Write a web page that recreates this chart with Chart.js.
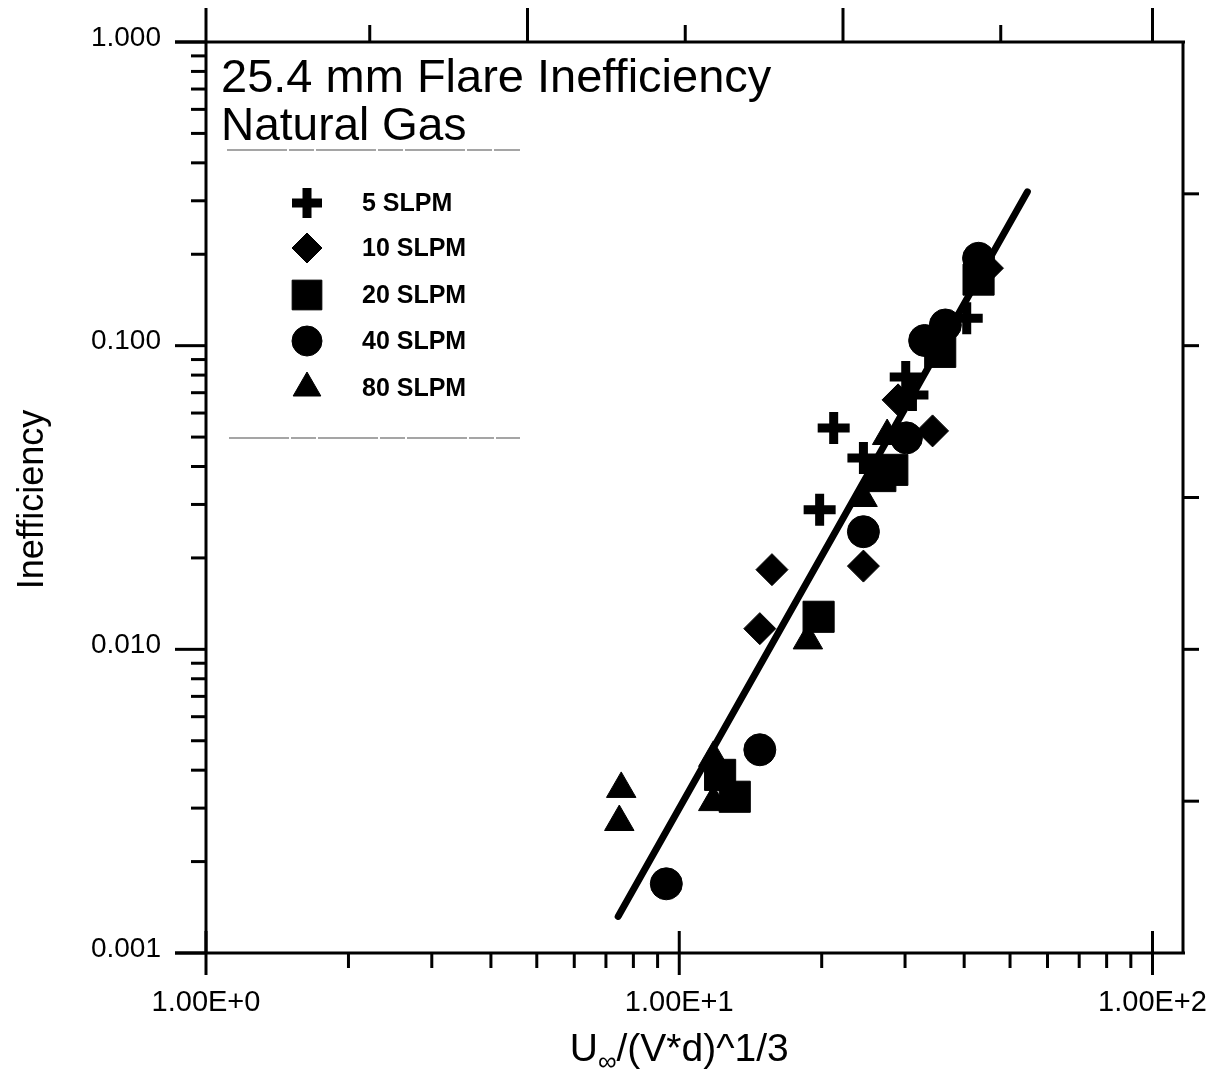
<!DOCTYPE html>
<html>
<head>
<meta charset="utf-8">
<script src="https://cdn.jsdelivr.net/npm/chart.js@4.4.1/dist/chart.umd.min.js"></script>
<style>
  body { margin: 0; background: #fff; }
</style>
</head>
<body>
<canvas id="flare" width="1218" height="1076"></canvas>
<script>
// values
const seriesNames = ['5 SLPM', '10 SLPM', '20 SLPM', '40 SLPM', '80 SLPM'];

const slpm5X = [21.2, 24.5, 19.8, 30.1, 31.1, 40.5];
const slpm5Y = [0.0536, 0.0427, 0.0288, 0.0789, 0.0688, 0.123];

const slpm10X = [14.8, 15.7, 24.5, 34.3, 29.0, 44.8];
const slpm10Y = [0.0117, 0.0183, 0.0188, 0.0524, 0.0663, 0.180];

const slpm20X = [12.2, 13.1, 19.7, 26.6, 28.2, 35.6, 42.9];
const slpm20Y = [0.00386, 0.00327, 0.0128, 0.0372, 0.0390, 0.0954, 0.165];

const slpm40X = [9.39, 14.8, 24.5, 30.2, 33.0, 36.5, 42.9];
const slpm40Y = [0.00169, 0.00467, 0.0244, 0.0497, 0.104, 0.117, 0.194];

const slpm80X = [7.54, 7.47, 11.8, 11.8, 18.7, 24.4, 27.5];
const slpm80Y = [0.00347, 0.00270, 0.00439, 0.00314, 0.0107, 0.0315, 0.0504];

// fitted line end points
const fitX = [7.43, 54.4];
const fitY = [0.00132, 0.321];

const xTickValues = [1, 10, 100];
const xTickLabels = ['1.00E+0', '1.00E+1', '1.00E+2'];
const yTickValues = [1, 0.1, 0.01, 0.001];
const yTickLabels = ['1.000', '0.100', '0.010', '0.001'];

const FONT = 'Liberation Sans, Arial, sans-serif';

const markers = [
  { pointStyle: 'cross', radius: 16, borderWidth: 9 },
  { pointStyle: 'rectRot', radius: 16, borderWidth: 1 },
  { pointStyle: 'rect', radius: 22, borderWidth: 1 },
  { pointStyle: 'circle', radius: 16, borderWidth: 1 },
  { pointStyle: 'triangle', radius: 17, borderWidth: 1 }
];

const xs = [slpm5X, slpm10X, slpm20X, slpm40X, slpm80X];
const ys = [slpm5Y, slpm10Y, slpm20Y, slpm40Y, slpm80Y];

const datasets = seriesNames.map((name, i) => ({
  label: name,
  data: xs[i].map((v, j) => ({ x: v, y: ys[i][j] })),
  pointStyle: markers[i].pointStyle,
  pointRadius: markers[i].radius,
  pointBorderWidth: markers[i].borderWidth,
  backgroundColor: '#000',
  borderColor: '#000',
  showLine: false
}));

datasets.unshift({
  label: 'fit',
  type: 'line',
  data: fitX.map((v, j) => ({ x: v, y: fitY[j] })),
  borderColor: '#000',
  borderWidth: 7,
  borderCapStyle: 'round',
  pointRadius: 0,
  fill: false
});

// draws the box, the ticks, all labels and the legend block
const frame = {
  id: 'frame',
  afterDraw(chart) {
    const { ctx, chartArea: a, scales: { x, y } } = chart;
    const line = (x1, y1, x2, y2) => {
      ctx.beginPath(); ctx.moveTo(x1, y1); ctx.lineTo(x2, y2); ctx.stroke();
    };
    ctx.save();
    ctx.strokeStyle = '#000';
    ctx.fillStyle = '#000';
    ctx.lineWidth = 3;

    // box
    line(a.left - 31, a.top, a.right + 2, a.top);
    line(a.left - 31, a.bottom, a.right + 2, a.bottom);
    line(a.left, a.top, a.left, a.bottom);
    line(a.right, a.top, a.right, a.bottom);

    // left axis
    yTickValues.forEach(v => {
      const py = y.getPixelForValue(v);
      line(a.left - 31, py, a.left, py);
      if (v < 1) {
        for (let m = 2; m <= 9; m++) {
          const my = y.getPixelForValue(v * m);
          line(a.left - 15, my, a.left, my);
        }
      }
    });
    ctx.font = '28px ' + FONT;
    ctx.textAlign = 'right';
    ctx.textBaseline = 'middle';
    yTickValues.forEach((v, i) => {
      ctx.fillText(yTickLabels[i], a.left - 45, y.getPixelForValue(v) - 4);
    });

    // bottom axis
    xTickValues.forEach(v => {
      const px = x.getPixelForValue(v);
      line(px, a.bottom - 22, px, a.bottom + 22);
      if (v < 100) {
        for (let m = 2; m <= 9; m++) {
          const mx = x.getPixelForValue(v * m);
          line(mx, a.bottom, mx, a.bottom + 15);
        }
      }
    });
    ctx.font = '29px ' + FONT;
    ctx.textAlign = 'center';
    ctx.textBaseline = 'alphabetic';
    xTickValues.forEach((v, i) => {
      ctx.fillText(xTickLabels[i], x.getPixelForValue(v), a.bottom + 58);
    });

    // top axis: ticks every third of a decade
    for (let k = 0; k <= 6; k++) {
      const px = x.getPixelForValue(Math.pow(10, k / 3));
      line(px + (k === 0 || k === 6 ? 0 : 6), a.top - (k % 2 === 0 ? 34 : 17),
           px + (k === 0 || k === 6 ? 0 : 6), a.top);
    }
    // right axis: ticks every half decade
    for (let k = 1; k <= 5; k++) {
      const py = y.getPixelForValue(Math.pow(10, -k / 2));
      line(a.right, py, a.right + 16, py);
    }

    // axis titles
    ctx.save();
    ctx.translate(33, (a.top + a.bottom) / 2 + 2);
    ctx.rotate(-Math.PI / 2);
    ctx.font = '36px ' + FONT;
    ctx.textAlign = 'center';
    ctx.textBaseline = 'middle';
    ctx.fillText('Inefficiency', 0, 0);
    ctx.restore();

    const big = '39px ' + FONT, small = '26px ' + FONT;
    ctx.textAlign = 'left';
    ctx.font = big;
    const wU = ctx.measureText('U').width;
    const rest = '/(V*d)^1/3';
    const wR = ctx.measureText(rest).width;
    ctx.font = small;
    const wInf = ctx.measureText('\u221e').width;
    let tx = x.getPixelForValue(10) - (wU + wInf + wR) / 2;
    const by = a.bottom + 108;
    ctx.font = big; ctx.fillText('U', tx, by); tx += wU;
    ctx.font = small; ctx.fillText('\u221e', tx, by + 9); tx += wInf;
    ctx.font = big; ctx.fillText(rest, tx, by);

    // heading inside the plot
    ctx.font = '47px ' + FONT;
    ctx.fillText('25.4 mm Flare Inefficiency', a.left + 15, 92);
    ctx.font = '46px ' + FONT;
    ctx.fillText('Natural Gas', a.left + 15, 140);

    ctx.strokeStyle = '#888';
    ctx.lineWidth = 1.5;
    ctx.setLineDash([60, 2, 25, 2]);
    line(a.left + 21, 150, 520, 150);
    line(a.left + 23, 438, 520, 438);
    ctx.setLineDash([]);

    // legend
    const rowY = [203, 248, 295, 341, 388];
    ctx.font = 'bold 25px ' + FONT;
    ctx.textBaseline = 'middle';
    seriesNames.forEach((name, i) => {
      const m = markers[i];
      ctx.strokeStyle = '#000';
      ctx.fillStyle = '#000';
      ctx.lineWidth = m.borderWidth;
      Chart.helpers.drawPoint(ctx, {
        pointStyle: m.pointStyle,
        radius: m.pointStyle === 'rect' ? 21 : m.radius - 1,
        borderWidth: m.borderWidth,
        rotation: 0
      }, 307, rowY[i]);
      ctx.fillText(name, 362, rowY[i] + 1);
    });
    ctx.restore();
  }
};

new Chart(document.getElementById('flare'), {
  type: 'scatter',
  data: { datasets },
  options: {
    responsive: false,
    animation: false,
    devicePixelRatio: 1,
    layout: { padding: { left: 206, right: 35, top: 42, bottom: 123 } },
    plugins: { legend: { display: false }, tooltip: { enabled: false } },
    scales: {
      x: { type: 'logarithmic', min: 1, max: 116, display: false },
      y: { type: 'logarithmic', min: 0.001, max: 1, display: false }
    }
  },
  plugins: [frame]
});
</script>
</body>
</html>
